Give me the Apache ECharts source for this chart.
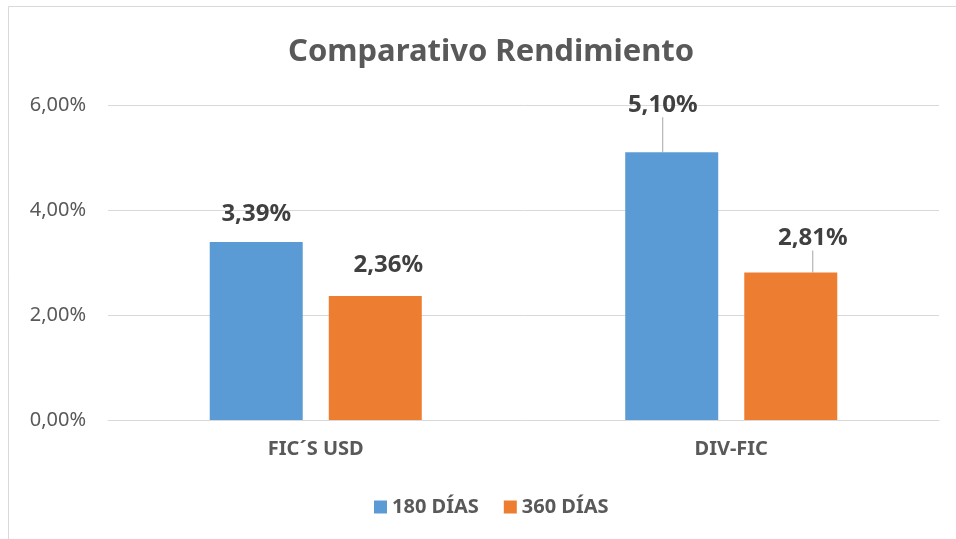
<!DOCTYPE html>
<html>
<head>
<meta charset="utf-8">
<script src="https://cdn.jsdelivr.net/npm/echarts@6/dist/echarts.min.js"></script>
<style>
html, body { margin: 0; padding: 0; background: #fff; }
#chart { width: 956px; height: 539px; }
</style>
</head>
<body>
<div id="chart"></div>
<script>
// datos
var categorias = ['FIC´S USD', 'DIV-FIC'];
var dias180 = [3.39, 5.10];
var dias360 = [2.36, 2.81];
var nombres = ['180 DÍAS', '360 DÍAS'];

function pct(v) {
    return v.toFixed(2).replace('.', ',') + '%';
}

// etiqueta con linea guia solo en las que Excel movio
function conGuia(valores, conLinea) {
    return valores.map(function (v, i) {
        return {value: v, labelLine: {show: conLinea[i]}};
    });
}

var myChart = echarts.init(document.getElementById('chart'));
var fuente = 'Noto Sans';
var etiqueta = {
    show: true, position: 'top', distance: 16,
    color: '#404040', fontSize: 24, fontWeight: 'bold', fontFamily: fuente,
    formatter: function (p) { return pct(p.value); }
};
var option = {
    backgroundColor: '#fff',
    animation: false,
    title: {
        text: 'Comparativo Rendimiento',
        left: 283,
        top: 32,
        textStyle: {color: '#595959', fontSize: 31, fontWeight: 'bold', fontFamily: fuente}
    },
    legend: {
        data: nombres,
        top: 492,
        left: 369,
        itemWidth: 13,
        itemHeight: 13,
        itemGap: 25,
        icon: 'rect',
        textStyle: {color: '#595959', fontSize: 20, fontWeight: 'bold', fontFamily: fuente}
    },
    grid: {left: 108, right: 17, top: 105, bottom: 119},
    xAxis: {
        type: 'category',
        data: categorias,
        axisLine: {lineStyle: {color: '#d9d9d9'}},
        axisTick: {show: false},
        axisLabel: {color: '#595959', fontSize: 20, fontWeight: 'bold', fontFamily: fuente, margin: 19}
    },
    yAxis: {
        type: 'value',
        min: 0,
        max: 6,
        interval: 2,
        axisLine: {show: false},
        axisTick: {show: false},
        splitLine: {lineStyle: {color: '#d9d9d9', width: 1}},
        axisLabel: {
            color: '#595959', fontSize: 20, fontFamily: fuente, margin: 22,
            formatter: function (v) { return pct(v); }
        }
    },
    graphic: [{
        type: 'rect',
        shape: {x: 8.5, y: 6.5, width: 960, height: 560},
        style: {fill: 'none', stroke: '#d9d9d9', lineWidth: 1},
        silent: true
    }],
    series: [
        {
            name: nombres[0],
            type: 'bar',
            data: conGuia(dias180, [false, true]),
            barWidth: 93,
            barGap: '28%',
            itemStyle: {color: '#5b9bd5'},
            label: etiqueta,
            labelLine: {lineStyle: {color: '#a6a6a6', width: 1}},
            labelLayout: function (p) {
                if (p.dataIndex === 1) return {dx: -9, dy: -19};
                return {};
            }
        },
        {
            name: nombres[1],
            type: 'bar',
            data: conGuia(dias360, [false, true]),
            barWidth: 93,
            itemStyle: {color: '#ed7d31'},
            label: etiqueta,
            labelLine: {lineStyle: {color: '#a6a6a6', width: 1}},
            labelLayout: function (p) {
                if (p.dataIndex === 0) return {dx: 13, dy: -3};
                return {dx: 22, dy: -6};
            }
        }
    ]
};
myChart.setOption(option);
</script>
</body>
</html>
